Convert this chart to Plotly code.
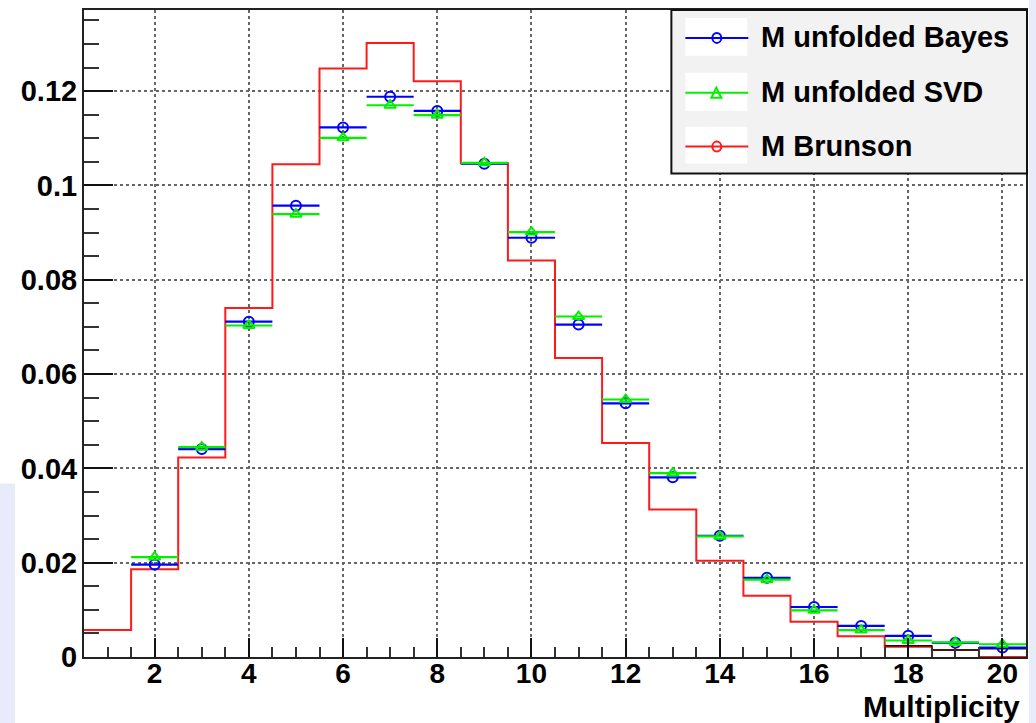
import plotly.graph_objects as go

# ---- data: multiplicity distributions, bins 1..20 ----
bins = list(range(1, 21))
bin_edges = [b - 0.5 for b in bins] + [20.5]

bayes = [None, 0.0196, 0.0441, 0.0711, 0.0957, 0.1123, 0.1188, 0.1158, 0.1046, 0.0889,
         0.0705, 0.0538, 0.0381, 0.0257, 0.0168, 0.0106, 0.0066, 0.0045, 0.0030, 0.0020]
svd = [None, 0.0212, 0.0445, 0.0703, 0.0939, 0.1101, 0.1170, 0.1149, 0.1048, 0.0901,
       0.0722, 0.0546, 0.0390, 0.0256, 0.0164, 0.0099, 0.0057, 0.0035, 0.0031, 0.0027]
brunson = [0.0057, 0.0186, 0.0423, 0.0740, 0.1045, 0.1248, 0.1302, 0.1221, 0.1047, 0.0841,
           0.0634, 0.0454, 0.0313, 0.0204, 0.0130, 0.0075, 0.0044, 0.0022, 0.0015, 0.0]
tail_edges = [17.5, 18.5, 19.5, 20.5]
tail_vals = [0.0024, 0.0015, 0.00175]

legend_labels = ["M unfolded Bayes", "M unfolded SVD", "M Brunson"]
x_title = "Multiplicity"

BLUE, GREEN, RED = "#0000ff", "#00f000", "#ff1a1a"
W, H = 1036, 723
L, R, T, B = 84, 1027, 8, 657  # plot frame in page pixels


def px(xp):
    return (xp - L) / (R - L)


def py(yp):
    return (B - yp) / (B - T)


fig = go.Figure()

# Brunson histogram outline
fig.add_trace(go.Scatter(
    x=bin_edges, y=brunson + [brunson[-1]], mode="lines", line_shape="hv",
    line=dict(color=RED, width=2), showlegend=False, hoverinfo="skip"))
fig.add_trace(go.Scatter(
    x=tail_edges, y=tail_vals + [tail_vals[-1]], mode="lines", line_shape="hv",
    line=dict(color="#111111", width=1.5), showlegend=False, hoverinfo="skip"))


def points(vals, color, symbol):
    xs = [b for b, v in zip(bins, vals) if v is not None]
    ys = [v for v in vals if v is not None]
    return go.Scatter(
        x=xs, y=ys, mode="markers",
        marker=dict(symbol=symbol, size=10, color=color, line=dict(color=color, width=2)),
        error_x=dict(type="constant", value=0.5, thickness=2.2, width=0, color=color),
        showlegend=False, hoverinfo="skip")


fig.add_trace(points(bayes, BLUE, "circle-open"))
fig.add_trace(points(svd, GREEN, "triangle-up-open"))

x_tick_font = dict(family="Liberation Sans", size=28, color="black", weight="bold")
y_tick_font = dict(family="Liberation Sans", size=29, color="black", weight="bold")

fig.update_xaxes(
    range=[0.5, 20.5], tick0=0, dtick=2, ticks="inside", ticklen=19, tickwidth=2,
    tickcolor="#111", showline=True, linecolor="#222", linewidth=2, mirror=True,
    showgrid=True, gridcolor="#666", griddash="dot", gridwidth=1.5, zeroline=False,
    tickfont=x_tick_font, ticklabelstandoff=-10,
    minor=dict(dtick=0.5, ticks="inside", ticklen=10, tickwidth=2, tickcolor="#333", showgrid=False))
fig.update_yaxes(
    range=[0, 0.1372], tick0=0, dtick=0.02, ticks="inside", ticklen=29, tickwidth=2,
    tickcolor="#111", showline=True, linecolor="#222", linewidth=2, mirror=True,
    showgrid=True, gridcolor="#666", griddash="dot", gridwidth=1.5, zeroline=False,
    tickfont=y_tick_font, ticklabelstandoff=-1,
    minor=dict(dtick=0.005, ticks="inside", ticklen=15, tickwidth=2, tickcolor="#333", showgrid=False))

shapes = []
annotations = []

# page strips at the edges
shapes.append(dict(type="rect", xref="paper", yref="paper", x0=px(1030), x1=px(W + 2),
                   y0=py(H + 2), y1=py(-2), fillcolor="#e8ecfa", line_width=0, layer="below"))
shapes.append(dict(type="rect", xref="paper", yref="paper", x0=px(-2), x1=px(15),
                   y0=py(H + 2), y1=py(483), fillcolor="#e8ecfa", line_width=0, layer="below"))

# legend box
shapes.append(dict(type="rect", xref="paper", yref="paper", x0=px(672), x1=px(1028),
                   y0=py(172), y1=py(8), fillcolor="#f2f2f2", line=dict(color="#111", width=2)))
rows = [(16, 54, 36), (71, 109, 91), (125, 162, 145)]
colors = [BLUE, GREEN, RED]
for (top, bot, cy), col, label, k in zip(rows, colors, legend_labels, range(3)):
    shapes.append(dict(type="rect", xref="paper", yref="paper", x0=px(686), x1=px(748),
                       y0=py(bot), y1=py(top), fillcolor="white", line_width=0))
    shapes.append(dict(type="line", xref="paper", yref="paper", x0=px(686), x1=px(749),
                       y0=py(cy), y1=py(cy), line=dict(color=col, width=2)))
    if k == 1:
        path = "M {:.5f},{:.5f} L {:.5f},{:.5f} L {:.5f},{:.5f} Z".format(
            px(712), py(cy + 5), px(722), py(cy + 5), px(717), py(cy - 5))
        shapes.append(dict(type="path", xref="paper", yref="paper", path=path,
                           fillcolor="rgba(0,0,0,0)", line=dict(color=col, width=2)))
    else:
        shapes.append(dict(type="circle", xref="paper", yref="paper", x0=px(713), x1=px(722),
                           y0=py(cy + 5), y1=py(cy - 5), line=dict(color=col, width=2)))
    annotations.append(dict(text=label, xref="paper", yref="paper", x=px(760), y=py(cy - 1),
                            xanchor="left", yanchor="middle", showarrow=False,
                            font=dict(family="Liberation Sans", size=29, color="black", weight="bold")))

annotations.append(dict(text=x_title, xref="paper", yref="paper", x=px(1023), y=py(707),
                        xanchor="right", yanchor="middle", showarrow=False,
                        font=dict(family="Liberation Sans", size=30, color="black", weight="bold")))

fig.update_layout(
    width=W, height=H, margin=dict(l=L, r=W - R, t=T, b=H - B),
    paper_bgcolor="white", plot_bgcolor="white",
    shapes=shapes, annotations=annotations, showlegend=False)

fig.write_html("out.html")
